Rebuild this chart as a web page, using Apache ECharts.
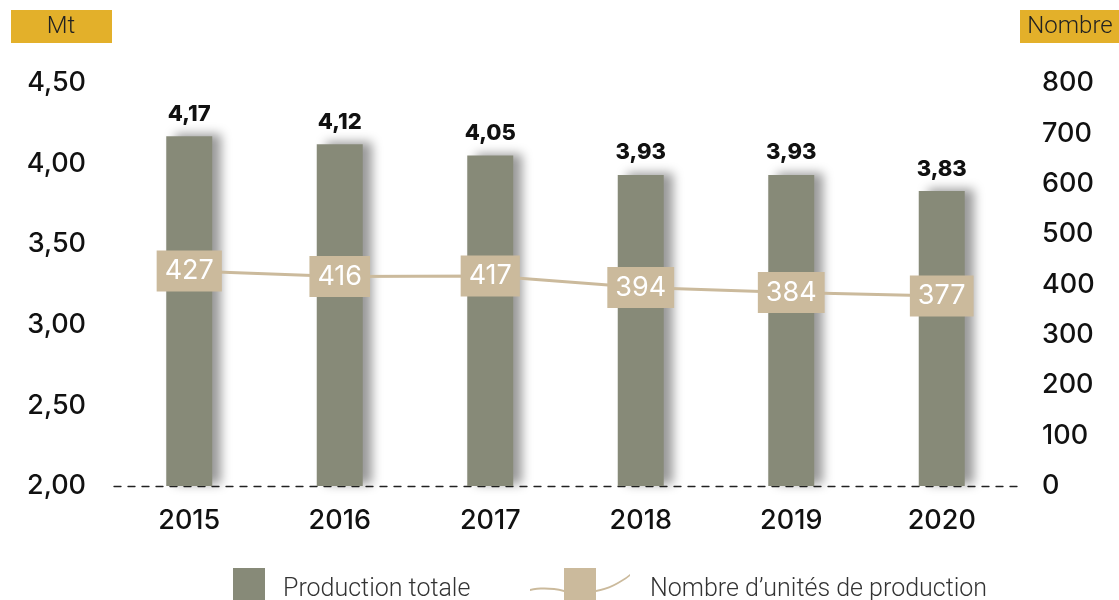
<!DOCTYPE html>
<html><head><meta charset="utf-8">
<script src="https://cdn.jsdelivr.net/npm/echarts@6/dist/echarts.min.js"></script>
<style>html,body{margin:0;padding:0;background:#fff}#c{width:1119px;height:600px}</style>
</head><body><div id="c"></div>
<script>
const categories = ['2015','2016','2017','2018','2019','2020'];
const production = [4.17, 4.12, 4.05, 3.93, 3.93, 3.83];
const units = [427, 416, 417, 394, 384, 377];
const leftTicks = {min: 2, max: 4.5, interval: 0.5};
const rightTicks = {min: 0, max: 800, interval: 100};
const seriesNames = ['Production totale', 'Nombre d\u2019unités de production'];

const chart = echarts.init(document.getElementById('c'), null, {renderer: 'canvas'});
const fmt = v => v.toFixed(2).replace('.', ',');
const axisFont = {fontFamily: 'Inter', fontSize: 27, fontWeight: 500, color: '#111'};
const legendPath = 'path://M34,0H66V32H34Z M0,21C10,19 22,19 34,22L34,24C22,21 10,21 0,23Z M66,22C78,20 90,14 100,6L100,8C90,16 78,22 66,24Z';
const legendRich = (padLeft) => ({
  fontFamily: 'Roboto', fontWeight: 300, fontSize: 25, color: '#333',
  rich: {t: {fontFamily: 'Roboto', fontWeight: 300, fontSize: 25, color: '#333', padding: [12, 0, 0, padLeft]}}
});

chart.setOption({
  animation: false,
  grid: {left: 114, right: 102, top: 83, bottom: 114, containLabel: false},
  xAxis: {
    type: 'category', data: categories,
    axisLine: {show: true, lineStyle: {color: '#222', width: 1.3, type: [7, 7]}},
    axisTick: {show: false},
    axisLabel: Object.assign({margin: 21}, axisFont)
  },
  yAxis: [
    {type: 'value', min: leftTicks.min, max: leftTicks.max, interval: leftTicks.interval,
     splitLine: {show: false}, axisLine: {show: false}, axisTick: {show: false},
     axisLabel: Object.assign({margin: 28, formatter: fmt}, axisFont)},
    {type: 'value', min: rightTicks.min, max: rightTicks.max, interval: rightTicks.interval,
     splitLine: {show: false}, axisLine: {show: false}, axisTick: {show: false},
     axisLabel: Object.assign({margin: 25, align: 'left'}, axisFont)}
  ],
  legend: [
    {data: [{name: seriesNames[0], icon: 'rect'}], left: 233, top: 568, padding: 0, itemWidth: 32, itemHeight: 32,
     formatter: n => '{t|' + n + '}', textStyle: legendRich(13), selectedMode: false},
    {data: [{name: seriesNames[1], icon: legendPath}], left: 530, top: 568, padding: 0, itemWidth: 102, itemHeight: 32,
     formatter: n => '{t|' + n + '}', textStyle: legendRich(14), selectedMode: false}
  ],
  series: [
    {name: seriesNames[0], type: 'bar', data: production, barWidth: 46, yAxisIndex: 0,
     itemStyle: {color: '#878a78', shadowColor: 'rgba(0,0,0,0.4)', shadowBlur: 10, shadowOffsetX: 9, shadowOffsetY: -2},
     label: {show: true, position: 'top', distance: 11, formatter: p => fmt(p.value),
       fontFamily: 'Inter', fontWeight: 800, fontSize: 22, color: '#111'}},
    {name: seriesNames[1], type: 'line', data: units, yAxisIndex: 1,
     lineStyle: {color: '#cbba9c', width: 3}, itemStyle: {color: '#cbba9c'},
     symbol: 'rect', symbolSize: 2, z: 5,
     label: {show: true, position: 'inside', backgroundColor: '#cbba9c', color: '#fff',
       fontFamily: 'Inter', fontSize: 27, fontWeight: 400, padding: [6, 8, 6, 8], lineHeight: 29}}
  ],
  graphic: [
    {type: 'group', left: 11, top: 10, children: [
      {type: 'rect', shape: {x: 0, y: 0, width: 101, height: 33}, style: {fill: '#e3b02a'}},
      {type: 'text', x: 50, y: 17, style: {text: 'Mt', fontFamily: 'Roboto', fontWeight: 300, fontSize: 24, fill: '#222', align: 'center', verticalAlign: 'middle'}}
    ]},
    {type: 'group', left: 1020, top: 10, children: [
      {type: 'rect', shape: {x: 0, y: 0, width: 99, height: 33}, style: {fill: '#e3b02a'}},
      {type: 'text', x: 50, y: 17, style: {text: 'Nombre', fontFamily: 'Roboto', fontWeight: 300, fontSize: 24, fill: '#222', align: 'center', verticalAlign: 'middle'}}
    ]}
  ]
});
</script></body></html>
